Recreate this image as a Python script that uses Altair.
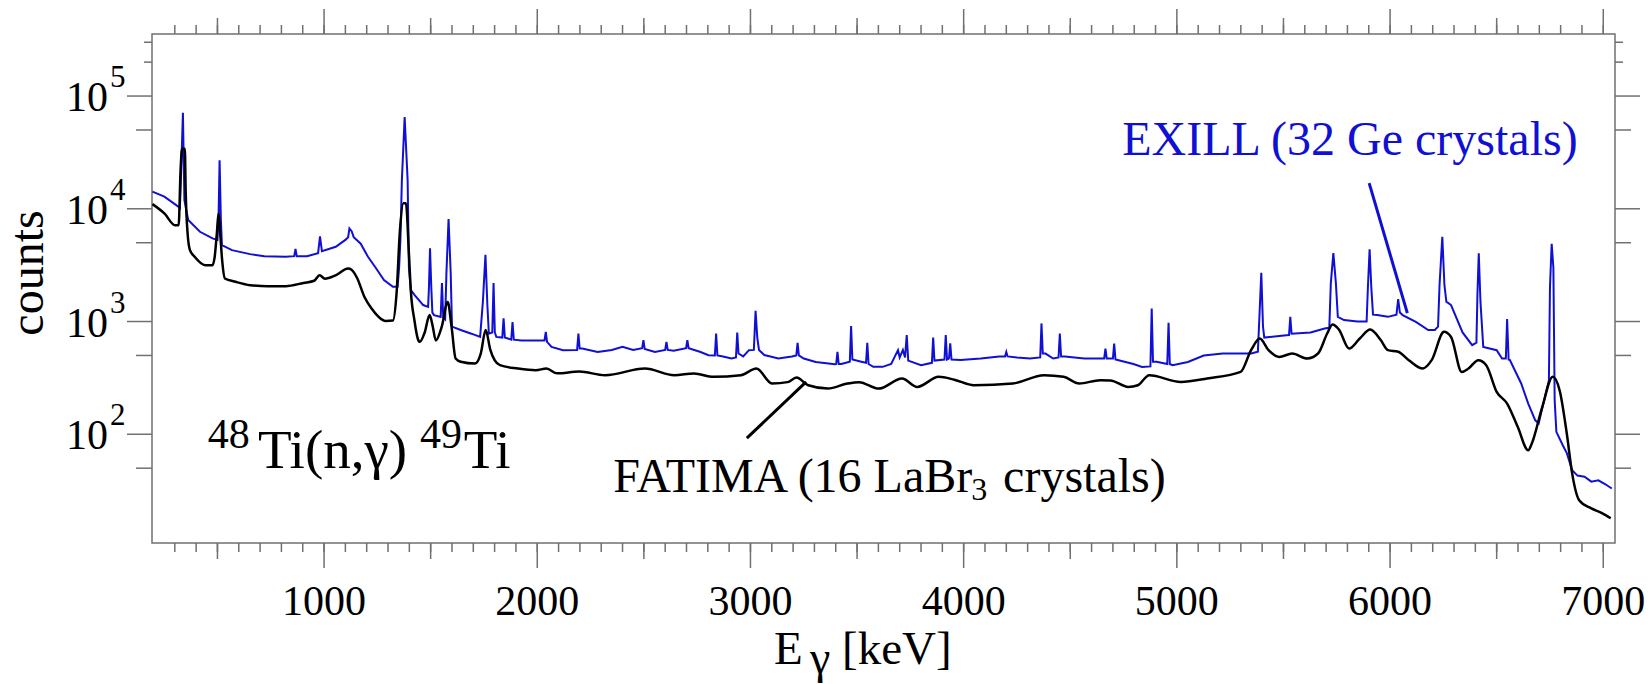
import altair as alt
import pandas as pd

# ---------------- data ----------------
exill_E = [195, 251, 318, 324, 330, 338, 345, 363, 418, 477, 500, 505, 510, 516, 521, 568, 653, 720, 820,
           860, 866, 872, 920, 972, 981, 990, 1055, 1100, 1113, 1119, 1130, 1139, 1172, 1206, 1239, 1281,
           1323, 1345, 1352, 1358, 1365, 1378, 1392, 1398, 1407, 1424, 1465, 1488, 1492, 1497, 1503, 1508,
           1516, 1547, 1553, 1559, 1568, 1574, 1584, 1594, 1600, 1641, 1691, 1732, 1745, 1757, 1766, 1773,
           1789, 1795, 1801, 1808, 1836, 1842, 1848, 1859, 1878, 1884, 1890, 1926, 1993, 2034, 2040, 2046,
           2067, 2121, 2187, 2193, 2199, 2211, 2283, 2350, 2400, 2450, 2492, 2498, 2504, 2552, 2600, 2606,
           2612, 2640, 2698, 2704, 2710, 2766, 2803, 2833, 2839, 2845, 2871, 2911, 2932, 2938, 2944, 2966,
           2993, 3016, 3024, 3032, 3040, 3065, 3131, 3194, 3215, 3221, 3227, 3250, 3306, 3396, 3402, 3408,
           3414, 3426, 3466, 3472, 3478, 3520, 3542, 3548, 3554, 3576, 3620, 3660, 3692, 3700, 3715, 3725,
           3733, 3740, 3800, 3851, 3857, 3863, 3910, 3916, 3922, 3931, 3937, 3943, 3986, 4080, 4167, 4194,
           4200, 4206, 4250, 4311, 4359, 4365, 4371, 4384, 4420, 4445, 4451, 4457, 4475, 4566, 4620, 4659,
           4665, 4671, 4700, 4706, 4712, 4722, 4796, 4837, 4876, 4882, 4888, 4905, 4955, 4961, 4967, 4980,
           5052, 5126, 5215, 5348, 5380, 5388, 5396, 5404, 5410, 5513, 5526, 5532, 5538, 5627, 5693, 5715,
           5722, 5734, 5746, 5755, 5784, 5847, 5890, 5896, 5904, 5912, 5920, 5940, 5990, 6030, 6038, 6046,
           6059, 6121, 6179, 6210, 6225, 6232, 6245, 6255, 6264, 6286, 6340, 6385, 6405, 6410, 6416, 6424,
           6437, 6500, 6525, 6543, 6549, 6556, 6562, 6615, 6648, 6681, 6697, 6730, 6745, 6750, 6758, 6766,
           6772, 6780, 6810, 6829, 6854, 6879, 6912, 6944, 6977, 7010, 7040]
exill_counts = [14200, 12800, 10400, 10200, 22000, 71000, 11900, 7940, 6250, 5460, 5300, 8000, 27000, 8000,
                4760, 4300, 3960, 3800, 3750, 3800, 4400, 3800, 3800, 4040, 5700, 4200, 4600, 5300, 5600,
                6700, 6300, 5600, 4900, 3750, 3060, 2330, 2030, 2030, 3000, 5270, 17900, 65000, 17900,
                3000, 1900, 1720, 1400, 1350, 2000, 4470, 2000, 1200, 1140, 1100, 2190, 1100, 1050, 2700,
                8100, 2700, 900, 840, 780, 730, 1500, 3900, 1400, 780, 800, 2200, 800, 730, 720, 1070, 720,
                710, 690, 990, 690, 680, 680, 680, 810, 660, 596, 557, 560, 783, 575, 575, 537, 560, 596,
                560, 580, 683, 570, 537, 560, 660, 560, 550, 580, 683, 580, 537, 502, 500, 783, 500, 490,
                470, 480, 800, 520, 490, 557, 560, 1245, 720, 560, 505, 470, 490, 500, 646, 500, 470, 438,
                417, 420, 537, 420, 420, 440, 910, 460, 440, 430, 646, 420, 396, 396, 420, 557, 480, 560,
                480, 757, 450, 410, 430, 720, 450, 460, 757, 460, 470, 640, 460, 455, 470, 490, 490, 537,
                490, 480, 470, 480, 962, 520, 520, 470, 480, 783, 490, 490, 470, 470, 470, 575, 470, 470,
                638, 460, 455, 420, 396, 400, 1307, 440, 440, 420, 973, 420, 410, 438, 500, 520, 520, 540,
                1200, 2700, 900, 720, 757, 760, 1100, 780, 800, 867, 880, 2170, 4050, 2170, 1100, 1030,
                1000, 1000, 2000, 4370, 2000, 1150, 1140, 1100, 1150, 1580, 1200, 1140, 994, 840, 840, 900,
                2100, 5640, 2100, 1500, 1400, 800, 617, 650, 1800, 4020, 1500, 596, 557, 470, 470, 1050,
                460, 455, 282, 187, 133, 125, 230, 300, 2030, 4900, 3000, 200, 105, 80, 68, 48, 43, 42, 38,
                39, 36, 33]

fatima_E = [195, 251, 301, 318, 327, 334, 347, 351, 360, 371, 393, 443, 477, 487, 497, 505, 513, 522, 535,
            585, 653, 737, 820, 904, 954, 979, 1004, 1054, 1113, 1129, 1155, 1189, 1222, 1256, 1289, 1323,
            1340, 1356, 1372, 1384, 1398, 1407, 1424, 1440, 1449, 1472, 1495, 1510, 1524, 1552, 1580, 1598,
            1617, 1641, 1708, 1735, 1758, 1780, 1800, 1825, 1909, 1993, 2043, 2093, 2197, 2318, 2505, 2643,
            2735, 2827, 2955, 3028, 3101, 3174, 3216, 3271, 3363, 3455, 3510, 3601, 3711, 3782, 3883, 3956,
            4048, 4231, 4377, 4469, 4542, 4640, 4688, 4772, 4817, 4870, 5019, 5142, 5299, 5348, 5389, 5430,
            5480, 5541, 5612, 5662, 5705, 5730, 5760, 5808, 5858, 5907, 5956, 5990, 6038, 6088, 6154, 6195,
            6253, 6286, 6336, 6368, 6414, 6451, 6500, 6549, 6599, 6648, 6664, 6714, 6763, 6796, 6829, 6854,
            6887, 6944, 6994, 7035]
fatima_counts = [11000, 9100, 7160, 7160, 22000, 34000, 34000, 14200, 6040, 4300, 3750, 3160, 3160, 3750,
                 6000, 9100, 6000, 3500, 2410, 2250, 2100, 2060, 2060, 2200, 2300, 2570, 2400, 2570, 2950,
                 2880, 2430, 1660, 1310, 1100, 1010, 1020, 1770, 6470, 11200, 11200, 4020, 1880, 1020, 700,
                 660, 800, 1140, 900, 680, 900, 1490, 900, 470, 440, 424, 520, 840, 560, 454, 410, 383, 370,
                 383, 347, 360, 334, 383, 334, 346, 323, 334, 383, 282, 290, 318, 272, 254, 282, 290, 254,
                 312, 263, 323, 305, 272, 282, 334, 323, 282, 301, 300, 263, 272, 334, 291, 312, 357, 557,
                 707, 557, 485, 520, 470, 520, 783, 942, 850, 575, 707, 849, 685, 557, 540, 454, 383, 454,
                 810, 730, 357, 383, 454, 410, 238, 187, 116, 72, 82, 175, 323, 242, 101, 45, 26, 22, 20,
                 18]

x_major_ticks = [1000, 2000, 3000, 4000, 5000, 6000, 7000]
x_tick_labels = ["1000", "2000", "3000", "4000", "5000", "6000", "7000"]
x_mid_ticks = [500, 1500, 2500, 3500, 4500, 5500, 6500]
x_minor_ticks = list(range(300, 7001, 100))
y_major_ticks = [100, 1000, 10000, 100000]
y_exponents = ["2", "3", "4", "5"]
y_mid_ticks = [50, 500, 5000, 50000]
y_minor_ticks = [200000, 300000]

# ---------------- styling ----------------
SERIF = "Liberation Serif"
BLUE = "#1010d4"
GRAY = "#707070"
W, H = 1463, 509

xs = alt.Scale(domain=[193, 7055], nice=False, zero=False)
ys = alt.Scale(type="log", domain=[10.85, 355100], nice=False)

exill = pd.DataFrame({"E": exill_E, "counts": exill_counts})
fatima = pd.DataFrame({"E": fatima_E, "counts": fatima_counts})

blue_line = alt.Chart(exill).mark_line(color=BLUE, strokeWidth=2, interpolate="linear").encode(
    x=alt.X("E:Q", scale=xs, axis=None),
    y=alt.Y("counts:Q", scale=ys, axis=None),
    order="E:Q",
)
black_line = alt.Chart(fatima).mark_line(color="black", strokeWidth=2.5, interpolate="monotone").encode(
    x=alt.X("E:Q", scale=xs, axis=None),
    y=alt.Y("counts:Q", scale=ys, axis=None),
    order="E:Q",
)


def xticks(vals, length):
    d = pd.DataFrame({"v": vals})
    bottom = alt.Chart(d).mark_rule(color=GRAY, strokeWidth=1.5).encode(
        x=alt.X("v:Q", scale=xs, axis=None), y=alt.value(H), y2=alt.value(H + length))
    top = alt.Chart(d).mark_rule(color=GRAY, strokeWidth=1.5).encode(
        x=alt.X("v:Q", scale=xs, axis=None), y=alt.value(0), y2=alt.value(-length))
    return [bottom, top]


def yticks(vals, length):
    d = pd.DataFrame({"v": vals})
    left = alt.Chart(d).mark_rule(color=GRAY, strokeWidth=1.5).encode(
        y=alt.Y("v:Q", scale=ys, axis=None), x=alt.value(0), x2=alt.value(-length))
    right = alt.Chart(d).mark_rule(color=GRAY, strokeWidth=1.5).encode(
        y=alt.Y("v:Q", scale=ys, axis=None), x=alt.value(W), x2=alt.value(W + length))
    return [left, right]


tick_layers = (xticks(x_minor_ticks, 9) + xticks(x_mid_ticks, 16) + xticks(x_major_ticks, 25)
               + yticks(y_minor_ticks, 8) + yticks(y_mid_ticks, 16) + yticks(y_major_ticks, 25))

# x tick labels
xlab = alt.Chart(pd.DataFrame({"v": x_major_ticks, "lab": x_tick_labels})).mark_text(
    font=SERIF, fontSize=42, align="center", baseline="alphabetic", color="black").encode(
    x=alt.X("v:Q", scale=xs, axis=None), y=alt.value(H + 72), text="lab:N")

# y tick labels 10^n
ylab = pd.DataFrame({"v": y_major_ticks, "exp": y_exponents})
ylab_base = alt.Chart(ylab).mark_text(font=SERIF, fontSize=42, align="right", baseline="alphabetic",
                                      dy=15, color="black").encode(
    y=alt.Y("v:Q", scale=ys, axis=None), x=alt.value(-44), text=alt.value("10"))
ylab_exp = alt.Chart(ylab).mark_text(font=SERIF, fontSize=31, align="left", baseline="alphabetic",
                                     dy=-9, color="black").encode(
    y=alt.Y("v:Q", scale=ys, axis=None), x=alt.value(-42), text="exp:N")

# axis titles (pixel positions relative to the plot area)
title_df = pd.DataFrame({"t": ["counts"]})
ytitle = alt.Chart(title_df).mark_text(
    font=SERIF, fontSize=48, angle=270, align="center", baseline="alphabetic", color="black").encode(
    x=alt.value(-109), y=alt.value(239), text="t:N")


def title_part(txt, px, py, fs):
    return alt.Chart(title_df).mark_text(font=SERIF, fontSize=fs, align="left", baseline="alphabetic",
                                         color="black").encode(
        x=alt.value(px), y=alt.value(py), text=alt.value(txt))


xtitle = [title_part("E", 622, 630, 47), title_part("γ", 658, 639, 46), title_part("[keV]", 690, 630, 47)]

# in-plot annotations (data coordinates)
ann = pd.DataFrame({
    "t": ["48", "Ti(n,γ)", "49", "Ti", "FATIMA (16 LaBr", "3", "crystals)", "EXILL (32 Ge crystals)"],
    "E": [455, 690, 1450, 1655, 2356, 4035, 4185, 4744],
    "c": [75.2, 49.9, 75.2, 49.9, 30.6, 25.9, 30.6, 29950],
    "fs": [42, 55, 42, 55, 48, 32, 48, 48],
    "col": ["black"] * 7 + [BLUE],
})
ann_text = alt.Chart(ann).mark_text(font=SERIF, align="left", baseline="alphabetic").encode(
    x=alt.X("E:Q", scale=xs, axis=None), y=alt.Y("c:Q", scale=ys, axis=None), text="t:N",
    size=alt.Size("fs:Q", scale=None, legend=None), color=alt.Color("col:N", scale=None, legend=None))

ptr = pd.DataFrame({"E1": [2983, 5902], "c1": [92.3, 16900], "E2": [3261, 6081], "c2": [291, 1186],
                    "col": ["black", BLUE]})
pointers = alt.Chart(ptr).mark_rule(strokeWidth=3).encode(
    x=alt.X("E1:Q", scale=xs, axis=None), y=alt.Y("c1:Q", scale=ys, axis=None),
    x2="E2:Q", y2="c2:Q", color=alt.Color("col:N", scale=None, legend=None))

chart = alt.layer(blue_line, black_line, *tick_layers, xlab, ylab_base, ylab_exp, ytitle, *xtitle,
                  ann_text, pointers).properties(
    width=W, height=H,
    padding={"left": 152, "top": 34, "right": 35, "bottom": 141},
    autosize=alt.AutoSizeParams(type="none"),
    background="white",
).configure_view(stroke=GRAY, strokeWidth=1.5)

chart.save("out.html", embed_options={"renderer": "svg", "actions": False})
